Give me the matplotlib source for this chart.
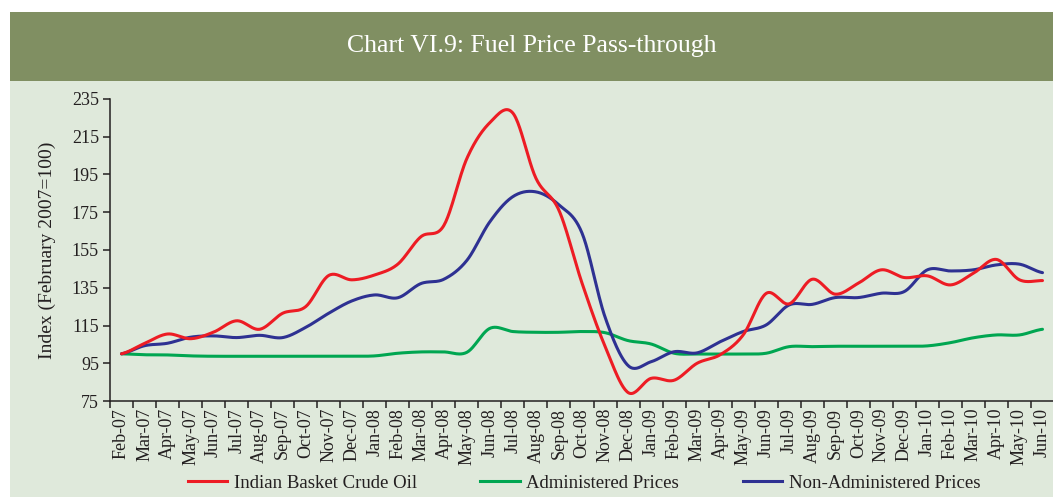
"""
Chart VI.9: Fuel Price Pass-through (відтворення графіка).
"""
import numpy as np
import matplotlib
matplotlib.use("Agg")
import matplotlib.pyplot as plt
from matplotlib.patches import Rectangle
from matplotlib.lines import Line2D

# Кольори
BANNER_BG = "#808F62"
PANEL_BG  = "#DFE9DB"
TEXT_DARK = "#231F20"
RED   = "#ED1C24"
GREEN = "#00A651"
BLUE  = "#2E3192"

months = ["Feb-07", "Mar-07", "Apr-07", "May-07", "Jun-07", "Jul-07", "Aug-07",
          "Sep-07", "Oct-07", "Nov-07", "Dec-07", "Jan-08", "Feb-08", "Mar-08",
          "Apr-08", "May-08", "Jun-08", "Jul-08", "Aug-08", "Sep-08", "Oct-08",
          "Nov-08", "Dec-08", "Jan-09", "Feb-09", "Mar-09", "Apr-09", "May-09",
          "Jun-09", "Jul-09", "Aug-09", "Sep-09", "Oct-09", "Nov-09", "Dec-09",
          "Jan-10", "Feb-10", "Mar-10", "Apr-10", "May-10", "Jun-10"]

crude_oil = [100, 105.5, 110.5, 108, 111.5, 117.5, 113, 121.5, 125, 141.5, 139.2,
             141.8, 147.5, 162, 168, 203.5, 222.5, 227.5, 193, 176, 137.5,
             104, 79.5, 87, 86, 95, 99.5, 110, 132, 126.5, 139.5,
             131.6, 137.4, 144.5, 140.4, 141.3, 136.5, 142.7, 150, 139.2, 138.8]

administered = [100, 99.5, 99.4, 98.9, 98.7, 98.7, 98.7, 98.7, 98.7, 98.7, 98.7,
                98.9, 100.3, 101, 101, 100.8, 113.5, 111.8, 111.4, 111.4, 111.8,
                111.2, 107, 105.2, 100.3, 99.9, 99.9, 99.9, 100.3, 103.8, 103.8,
                104, 104, 104, 104, 104.2, 105.9, 108.5, 110, 110, 113]

non_administered = [100, 104.3, 105.6, 108.8, 109.5, 108.6, 109.8, 108.6, 114, 121.5, 128,
                    131.2, 129.7, 137.2, 139.5, 149.5, 170, 183.3, 185.8, 178.9, 164,
                    119.5, 93.8, 95.8, 101.1, 100.5, 106.4, 111.8, 115.3, 125.9, 126.2,
                    129.8, 129.8, 132.1, 133, 144.5, 143.9, 144.5, 147.1, 147.5, 143]

y_ticks = [75, 95, 115, 135, 155, 175, 195, 215, 235]


def _smooth(y, steps=24):
    """Згладжена крива (Catmull-Rom), як 'smoothed line' в Excel"""
    y = np.asarray(y, dtype=float)
    p = np.concatenate([[y[0]], y, [y[-1]]])
    xs, ys = [], []
    for i in range(len(y) - 1):
        p0, p1, p2, p3 = p[i], p[i + 1], p[i + 2], p[i + 3]
        t = np.linspace(0, 1, steps, endpoint=False)
        yy = 0.5 * ((2 * p1) + (-p0 + p2) * t + (2 * p0 - 5 * p1 + 4 * p2 - p3) * t ** 2
                    + (-p0 + 3 * p1 - 3 * p2 + p3) * t ** 3)
        xs.append(i + t)
        ys.append(yy)
    xs.append([len(y) - 1])
    ys.append([y[-1]])
    return np.concatenate(xs), np.concatenate(ys)


plt.rcParams["font.family"] = ["Liberation Serif", "DejaVu Serif"]

W, H = 1053, 497
fig = plt.figure(figsize=(W / 100, H / 100), dpi=100, facecolor="white")

# Фон панелі та банер заголовка
fig.patches.append(Rectangle((10 / W, 0), 1 - 10 / W, 1 - 81 / H, transform=fig.transFigure,
                             facecolor=PANEL_BG, edgecolor="none", zorder=-2))
fig.patches.append(Rectangle((10 / W, 1 - 81 / H), 1 - 10 / W, 69 / H, transform=fig.transFigure,
                             facecolor=BANNER_BG, edgecolor="none", zorder=-2))
fig.text((10 + W) / 2 / W, 1 - 46 / H, "Chart VI.9: Fuel Price Pass-through",
         ha="center", va="center", color="white", fontsize=18.5)

# Осі: x 110..1054 px, y 99..401 px
ax = fig.add_axes([110 / W, 1 - 401 / H, 944 / W, 302 / H])
ax.set_facecolor("none")

x = np.arange(len(months))
for series, color in [(administered, GREEN), (non_administered, BLUE), (crude_oil, RED)]:
    sx, sy = _smooth(series)
    ax.plot(sx, sy, color=color, linewidth=2.2, solid_capstyle="round")

ax.set_xlim(-0.5, len(months) - 0.5)
ax.set_ylim(75, 235)
ax.set_yticks(y_ticks)
ax.set_yticklabels([str(v) for v in y_ticks], fontsize=13, color=TEXT_DARK)

# Поділки між місяцями, підписи по центру
ax.set_xticks(np.arange(len(months)) - 0.5)
ax.set_xticklabels([])
ax.set_xticks(x, minor=True)
ax.set_xticklabels(months, minor=True, rotation=90, fontsize=13, color=TEXT_DARK)
ax.tick_params(axis="x", which="minor", length=0, pad=5)
ax.tick_params(axis="x", which="major", length=5, width=1.1, color=TEXT_DARK)
ax.tick_params(axis="y", length=5, width=1.1, color=TEXT_DARK, pad=3)

for s in ["top", "right"]:
    ax.spines[s].set_visible(False)
for s in ["left", "bottom"]:
    ax.spines[s].set_linewidth(1.1)
    ax.spines[s].set_color(TEXT_DARK)

ax.set_ylabel("Index (February 2007=100)", fontsize=14, color=TEXT_DARK, labelpad=11)

handles = [Line2D([], [], color=RED, linewidth=2.2),
           Line2D([], [], color=GREEN, linewidth=2.2),
           Line2D([], [], color=BLUE, linewidth=2.2)]
fig.legend(handles, ["Indian Basket Crude Oil", "Administered Prices", "Non-Administered Prices"],
           loc="center", bbox_to_anchor=(584 / W, 14 / H), ncol=3, frameon=False,
           fontsize=13.5, handlelength=2.1, handletextpad=0.35, columnspacing=3.4,
           labelcolor=TEXT_DARK, borderpad=0)

fig.savefig("out.png", dpi=100, facecolor="white")
